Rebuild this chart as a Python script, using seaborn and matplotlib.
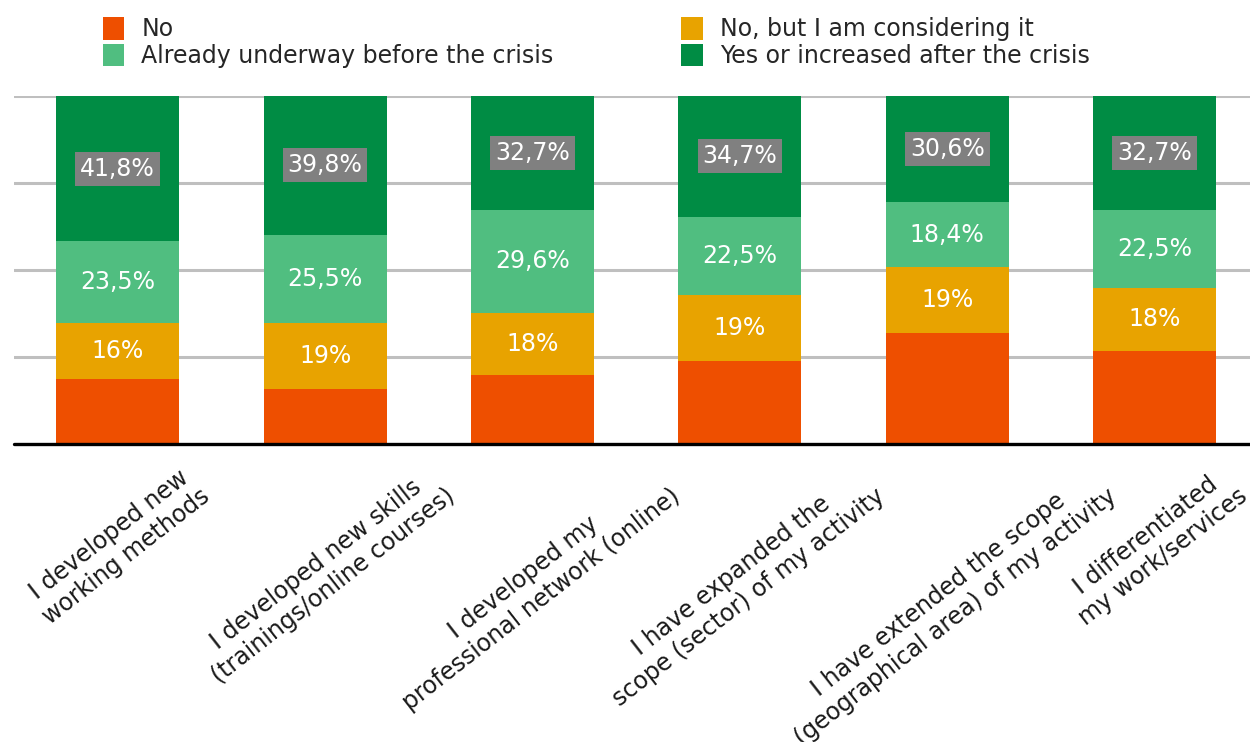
import numpy as np
import matplotlib
matplotlib.use("Agg")
import matplotlib.pyplot as plt
import seaborn as sns
from matplotlib.patches import Patch

sns.set_theme(style="white")
plt.rcParams['font.family'] = ['DejaVu Sans']

categories = [
    "I developed new\nworking methods",
    "I developed new skills\n(trainings/online courses)",
    "I developed my\nprofessional network (online)",
    "I have expanded the\nscope (sector) of my activity",
    "I have extended the scope\n(geographical area) of my activity",
    "I differentiated\nmy work/services",
]
series_names = ["No", "No, but I am considering it",
                "Already underway before the crisis", "Yes or increased after the crisis"]
no_vals = [18.7, 15.7, 19.7, 23.8, 32.0, 26.8]
considering_vals = [16, 19, 18, 19, 19, 18]
already_vals = [23.5, 25.5, 29.6, 22.5, 18.4, 22.5]
yes_vals = [41.8, 39.8, 32.7, 34.7, 30.6, 32.7]
considering_labels = ["16%", "19%", "18%", "19%", "19%", "18%"]
already_labels = ["23,5%", "25,5%", "29,6%", "22,5%", "18,4%", "22,5%"]
yes_labels = ["41,8%", "39,8%", "32,7%", "34,7%", "30,6%", "32,7%"]

colors = ["#EE4F00", "#E8A300", "#50BE80", "#008C44"]

layers = [np.array(no_vals), np.array(considering_vals),
          np.array(already_vals), np.array(yes_vals)]
cum = np.cumsum(layers, axis=0)

fig = plt.figure(figsize=(12.5, 7.42), dpi=100)
ax = fig.add_axes([14/1250, (742-444)/742, 1236/1250, 348/742])

xkeys = [str(i) for i in range(len(categories))]
for i in range(3, -1, -1):
    sns.barplot(x=xkeys, y=cum[i], color=colors[i], saturation=1,
                width=0.593, ax=ax, zorder=2, linewidth=0)

ax.set_xlim(-0.5, -0.5 + 1236/207.4)
ax.set_ylim(0, 100)
for yv in [25, 50, 75, 100]:
    ax.axhline(yv, color="#BFBFBF", lw=2.2, zorder=1)
ax.axhline(0, color="black", lw=2.4, zorder=3, clip_on=False)
for s in ax.spines.values():
    s.set_visible(False)
ax.set_yticks([])
ax.set_ylabel("")
ax.set_xlabel("")

ax.set_xticks(range(len(categories)))
ax.set_xticklabels(categories, rotation=38, ha="center", va="top",
                   rotation_mode="default", fontsize=17, color="#1a1a1a",
                   multialignment="center")
ax.tick_params(axis="x", length=0, pad=13)

label_sets = [None, considering_labels, already_labels, yes_labels]
for li in range(1, 4):
    bottoms = cum[li - 1]
    for j in range(len(categories)):
        yc = bottoms[j] + layers[li][j] / 2
        kw = {}
        if li == 3:
            kw["bbox"] = dict(facecolor="#808080", edgecolor="none", pad=3.5)
        ax.text(j, yc, label_sets[li][j], ha="center", va="center",
                color="white", fontsize=17, zorder=5, **kw)

handles = [Patch(facecolor=c, edgecolor="none") for c in colors]
order = [0, 2, 1, 3]
fig.legend([handles[k] for k in order], [series_names[k] for k in order],
           loc="upper left", bbox_to_anchor=(0.066, 1.004), ncol=2,
           frameon=False, fontsize=17, handlelength=0.92, handleheight=1.1,
           handletextpad=0.72, columnspacing=5.4, labelspacing=0.1,
           borderaxespad=0.45)

fig.savefig("out.png", dpi=100)
